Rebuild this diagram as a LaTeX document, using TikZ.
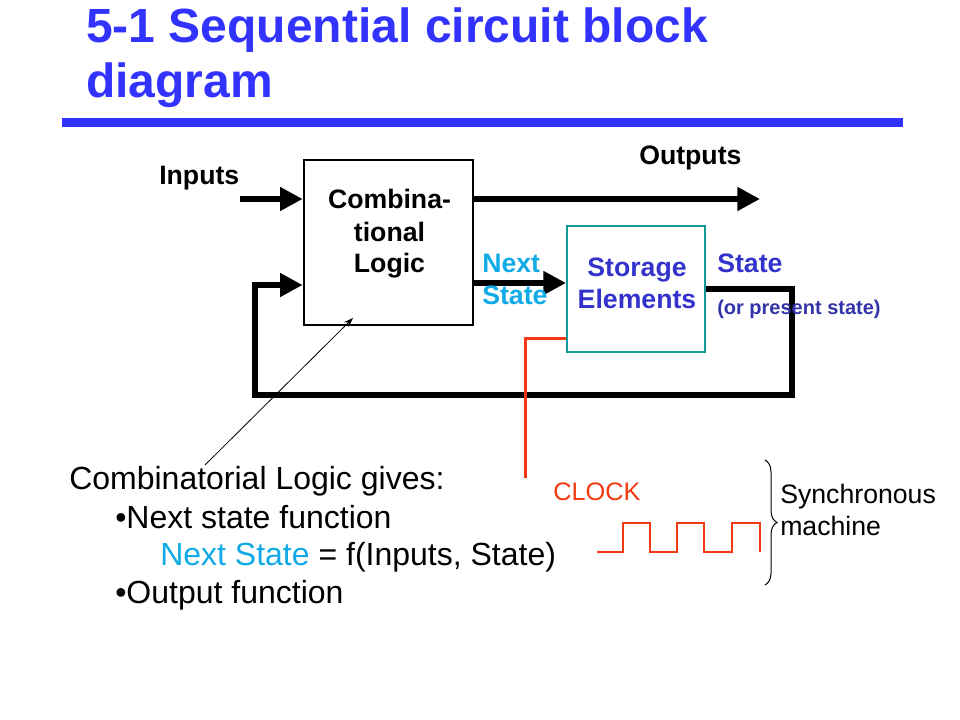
\documentclass[tikz,border=0pt]{standalone}
\usepackage{fontspec}
\setmainfont{Liberation Sans}
\usetikzlibrary{arrows.meta,decorations.pathreplacing,positioning}

\definecolor{titleblue}{HTML}{3333FF}
\definecolor{stateblue}{HTML}{3333CC}
\definecolor{presblue}{HTML}{3333AA}
\definecolor{nextcyan}{HTML}{10AAE6}
\definecolor{tealbox}{HTML}{129A9A}
\definecolor{clkred}{HTML}{F23A12}

\newcommand{\fsize}[2]{\fontsize{#1}{#2}\selectfont}

\begin{document}
\begin{tikzpicture}[x=0.75pt,y=-0.75pt,
  blockbox/.style={draw,line width=2pt,minimum width=126.75pt,minimum height=123.75pt,inner sep=0pt},
  bus/.style={line width=5pt,-{Triangle[length=17pt,width=17pt]}},
  lbl/.style={font=\fsize{20}{24}\bfseries,inner sep=0pt,anchor=base west},
  body/.style={font=\fsize{24}{28},inner sep=0pt,anchor=base west}]

\useasboundingbox (0,0) rectangle (960,720);

% title (base = last line)
\node [anchor=base west,inner sep=0pt,align=left,text=titleblue,font=\fsize{36}{41.25}\bfseries] (title) at (86,98) {5-1 Sequential circuit block\\diagram};
\fill [titleblue] (62,118) rectangle (903,127);

% blocks
\node [blockbox] (comb) at (388.5,242.5) {};
\node [blockbox,draw=tealbox,line width=1.5pt,minimum width=103.5pt,minimum height=94.5pt] (store) at (636,289) {};

\node [lbl,anchor=base,align=center] (combtxt) at (389.5,273) {Combina-\\tional\\Logic};
\node [lbl,anchor=base,align=center,text=stateblue] (storetxt) at (637,308) {Storage\\Elements};

% buses
\coordinate (inA) at (240,199);
\coordinate (outA) at (760,199);
\coordinate (nsY) at (0,283);
\coordinate (loopR) at (792,395);
\coordinate (loopL) at (255,285);

\draw [bus] (inA) -- (inA -| comb.west);
\draw [bus] (comb.east |- outA) -- (outA);
\draw [bus] (comb.east |- nsY) -- (store.west |- nsY);
\draw [bus] (store.east) -| (loopR) -| (loopL) -- (loopL -| comb.west);

% labels
\node [lbl] (inlbl) at (159,185) {Inputs};
\node [lbl] (outlbl) at (639,165) {Outputs};
\node [lbl,align=left,text=nextcyan] (nextlbl) at (482,305) {Next\\State};
\node [lbl,text=stateblue] (statelbl) at (717,273) {State};
\node [lbl,text=presblue,font=\fsize{15}{18}\bfseries] (preslbl) at (717,315) {(or present state)};

% clock
\coordinate (clk) at (525,478);
\coordinate (clkY) at (0,338);
\draw [clkred,line width=2.25pt] (store.west |- clkY) -| (clk);

\node [inner sep=0pt,anchor=base west,text=clkred,font=\fsize{19}{23}] (clktxt) at (553,500) {CLOCK};

\draw [clkred,line width=1.5pt] (597,552) -- (623,552) -- (623,523) -- (650,523) -- (650,552) -- (677,552) -- (677,523) -- (704,523) -- (704,552) -- (732,552) -- (732,523) -- (760,523) -- (760,552);

\draw [line width=0.75pt,decorate,decoration={brace,amplitude=9pt}] (765,460) -- (765,585);
\node [inner sep=0pt,anchor=base west,align=left,font=\fsize{20}{24}] (synclbl) at (780,535) {Synchronous\\machine};

% explanation
\node [body] (gives) at (69,489) {Combinatorial Logic gives:};
\node [body] (nsfun) at (115,528) {•Next state function};
\node [body] (nseq) at (160,565) {\textcolor{nextcyan}{Next State} = f(Inputs, State)};
\node [body] (outfun) at (115,603) {•Output function};

\coordinate (ptr) at (205,465);
\coordinate (ptrTip) at (353,318);
\draw [line width=0.6pt,-{Stealth[length=7pt,width=5pt]}] (ptr) -- (ptrTip);

\end{tikzpicture}
\end{document}
